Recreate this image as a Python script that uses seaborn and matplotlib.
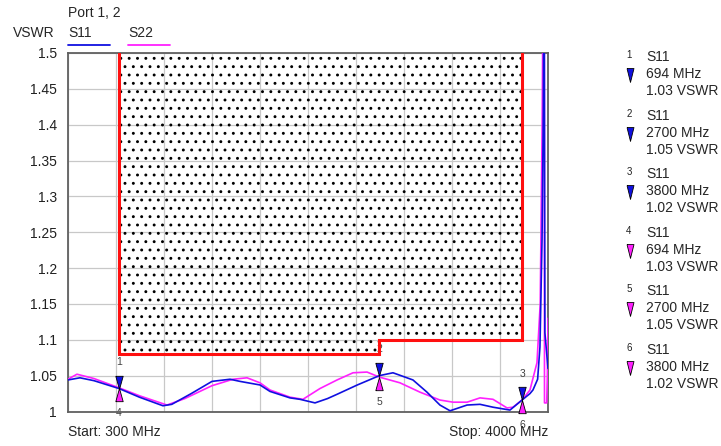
"""VSWR sweep of ports 1 and 2 with limit mask and markers."""

import matplotlib

matplotlib.use("Agg")
import matplotlib.pyplot as plt
import numpy as np
import pandas as pd
import seaborn as sns

# S11 trace (MHz, VSWR)
S11_FREQ = [300, 392, 500, 694, 850, 1032, 1100, 1250, 1410, 1549, 1626, 1780,
            1857, 2011, 2088, 2204, 2300, 2374, 2530, 2700, 2805, 2959, 3067,
            3167, 3245, 3376, 3476, 3576, 3707, 3800, 3861, 3884, 3920, 3938,
            3954, 3964, 3968, 3971, 3976, 4000]
S11_VSWR = [1.044, 1.047, 1.043, 1.032, 1.020, 1.008, 1.010, 1.025, 1.042,
            1.045, 1.042, 1.037, 1.028, 1.019, 1.017, 1.012, 1.018, 1.024,
            1.037, 1.050, 1.054, 1.044, 1.027, 1.009, 1.001, 1.009, 1.010,
            1.006, 1.002, 1.016, 1.025, 1.030, 1.045, 1.090, 1.240, 1.420,
            1.600, 1.600, 1.110, 1.060]

# S22 trace
S22_FREQ = [300, 369, 500, 694, 850, 1063, 1200, 1410, 1572, 1680, 1780, 1857,
            2011, 2111, 2242, 2374, 2497, 2605, 2700, 2859, 3013, 3167, 3268,
            3376, 3476, 3576, 3684, 3730, 3800, 3861, 3915, 3940, 3955, 3962,
            3971, 3973, 3990, 3995, 4000]
S22_VSWR = [1.045, 1.052, 1.046, 1.033, 1.022, 1.009, 1.018, 1.036, 1.045,
            1.047, 1.040, 1.030, 1.020, 1.017, 1.032, 1.044, 1.054, 1.055,
            1.048, 1.040, 1.027, 1.016, 1.013, 1.013, 1.019, 1.017, 1.005,
            1.006, 1.016, 1.030, 1.068, 1.150, 1.400, 1.600, 1.600, 1.012,
            1.012, 1.050, 1.130]

# limit mask: (start MHz, stop MHz, lower VSWR)
LIMIT_START = [694, 2700]
LIMIT_STOP = [2700, 3800]
LIMIT_LEVEL = [1.08, 1.10]

MARKER_IDS = [1, 2, 3, 4, 5, 6]
MARKER_TRACE = ["S11", "S11", "S11", "S22", "S22", "S22"]
MARKER_FREQ = [694, 2700, 3800, 694, 2700, 3800]
MARKER_TEXT = ["1.03 VSWR", "1.05 VSWR", "1.02 VSWR",
               "1.03 VSWR", "1.05 VSWR", "1.02 VSWR"]

Y_TICKS = [1.0, 1.05, 1.1, 1.15, 1.2, 1.25, 1.3, 1.35, 1.4, 1.45, 1.5]
F_START, F_STOP = 300, 4000

BLUE = "#1010e0"
MAGENTA = "#ff20ff"
RED = "#ff1010"

# marker shapes with the apex on the origin
DOWN_TRI = [(-0.28, 1.0), (0.28, 1.0), (0.0, 0.0), (-0.28, 1.0)]
UP_TRI = [(-0.28, -1.0), (0.28, -1.0), (0.0, 0.0), (-0.28, -1.0)]
LEGEND_TRI = [(-0.25, 0.5), (0.25, 0.5), (0.0, -0.5), (-0.25, 0.5)]


def main() -> None:
    sns.set_theme(style="white")
    plt.rcParams["font.family"] = ["Liberation Sans", "DejaVu Sans"]
    plt.rcParams["hatch.color"] = "black"
    plt.rcParams["hatch.linewidth"] = 0.9

    fig = plt.figure(figsize=(7.21, 4.46), dpi=100)
    ax = fig.add_axes([68 / 721, 1 - 411.5 / 446, 480 / 721, 358.5 / 446])

    traces = pd.DataFrame({
        "freq": S11_FREQ + S22_FREQ,
        "vswr": S11_VSWR + S22_VSWR,
        "trace": ["S11"] * len(S11_FREQ) + ["S22"] * len(S22_FREQ),
    })

    # limit mask, dotted fill and red outline
    edge_x, edge_y = [LIMIT_START[0]], [1.5]
    for start, stop, level in zip(LIMIT_START, LIMIT_STOP, LIMIT_LEVEL):
        ax.fill_between([start, stop], level, 1.5, facecolor="none",
                        edgecolor="black", hatch="..", linewidth=0, zorder=1)
        edge_x += [start, stop]
        edge_y += [level, level]
    edge_x.append(LIMIT_STOP[-1])
    edge_y.append(1.5)
    ax.plot(edge_x, edge_y, color=RED, lw=2.2, zorder=4, solid_joinstyle="miter")

    sns.lineplot(data=traces, x="freq", y="vswr", hue="trace", sort=False,
                 palette={"S11": BLUE, "S22": MAGENTA}, hue_order=["S22", "S11"],
                 lw=1.2, legend=False, ax=ax, zorder=3)

    # trace markers
    for mid, name, freq in zip(MARKER_IDS, MARKER_TRACE, MARKER_FREQ):
        sub = traces[traces["trace"] == name]
        val = np.interp(freq, sub["freq"], sub["vswr"])
        if name == "S11":
            shape, color, off = DOWN_TRI, BLUE, 19
        else:
            shape, color, off = UP_TRI, MAGENTA, -18
        ax.plot([freq], [val], marker=shape, ms=19, mfc=color, mec="black",
                mew=0.6, ls="none", zorder=5, clip_on=False)
        ax.annotate(str(mid), (freq, val), xytext=(0, off),
                    textcoords="offset points", ha="center", va="center",
                    fontsize=7.5, color="#404040", zorder=2,
                    annotation_clip=False)

    ax.set_xlim(F_START, F_STOP)
    ax.set_ylim(1.0, 1.5)
    ax.set_xticks(np.linspace(F_START, F_STOP, 11))
    ax.set_xticklabels([])
    ax.set_yticks(Y_TICKS)
    ax.set_yticklabels([f"{t:g}" for t in Y_TICKS])
    ax.tick_params(axis="both", length=0, labelsize=10, colors="#202020", pad=8)
    ax.grid(True, color="#c8c8c8", lw=0.9)
    ax.set_axisbelow(True)
    for spine in ax.spines.values():
        spine.set_color("#606060")
        spine.set_linewidth(1.3)
    ax.set_xlabel("")
    ax.set_ylabel("")

    # header
    fig.text(68 / 721, 1 - 13 / 446, "Port 1, 2", fontsize=10, va="center")
    fig.text(55 / 721, 1 - 33 / 446, "VSWR", fontsize=10, va="center", ha="right")
    fig.text(68 / 721, 1 - 33 / 446, "S11", fontsize=10, va="center")
    fig.text(128 / 721, 1 - 33 / 446, "S22", fontsize=10, va="center")
    fig.add_artist(plt.Line2D([68 / 721, 110 / 721], [1 - 45 / 446] * 2,
                              color=BLUE, lw=1.3))
    fig.add_artist(plt.Line2D([128 / 721, 170 / 721], [1 - 45 / 446] * 2,
                              color=MAGENTA, lw=1.3))

    # footer
    fig.text(68 / 721, 1 - 432 / 446, f"Start: {F_START} MHz", fontsize=10,
             va="center")
    fig.text(548 / 721, 1 - 432 / 446, f"Stop: {F_STOP} MHz", fontsize=10,
             va="center", ha="right")

    # marker table on the right
    for i, (mid, name, freq, text) in enumerate(
            zip(MARKER_IDS, MARKER_TRACE, MARKER_FREQ, MARKER_TEXT)):
        y0 = 57 + i * 58.6
        color = BLUE if i < 3 else MAGENTA
        fig.text(629 / 721, 1 - (y0 - 2) / 446, str(mid), fontsize=7,
                 ha="center", va="center", color="#202020")
        fig.text(646 / 721, 1 - y0 / 446, "S11", fontsize=10, va="center")
        fig.text(646 / 721, 1 - (y0 + 17) / 446, f"{freq} MHz", fontsize=10,
                 va="center")
        fig.text(646 / 721, 1 - (y0 + 34) / 446, text, fontsize=10,
                 va="center")
        fig.add_artist(plt.Line2D([630 / 721], [1 - (y0 + 18) / 446],
                                  marker=LEGEND_TRI, ms=10, mfc=color,
                                  mec="black", mew=0.6, ls="none"))

    fig.savefig("out.png", dpi=100)
    plt.close(fig)


if __name__ == "__main__":
    main()
